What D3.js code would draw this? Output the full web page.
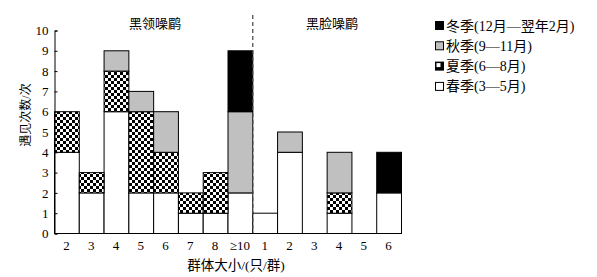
<!DOCTYPE html>
<meta charset="UTF-8">
<style>
body { margin: 0; background: #fff; }
text { font-family: "Liberation Serif", "Noto Sans CJK SC", serif; fill: #000; }
.bar { stroke: #000; stroke-width: 1px; }
</style>
<body>
<script src="https://d3js.org/d3.v7.min.js"></script>
<script>
// group size labels (black-throated laughingthrush first, then masked)
var sizes = ["2", "3", "4", "5", "6", "7", "8", "≥10", "1", "2", "3", "4", "5", "6"];
var spring = [4, 2, 6, 2, 2, 1, 1, 2, 1, 4, 0, 1, 0, 2];
var summer = [2, 1, 2, 4, 2, 1, 2, 0, 0, 0, 0, 1, 0, 0];
var autumn = [0, 0, 1, 1, 2, 0, 0, 4, 0, 1, 0, 2, 0, 0];
var winter = [0, 0, 0, 0, 0, 0, 0, 3, 0, 0, 0, 0, 0, 2];
var yTicks = [0, 1, 2, 3, 4, 5, 6, 7, 8, 9, 10];
var seasons = ["spring", "summer", "autumn", "winter"];
var legendLabels = ["冬季(12月—翌年2月)", "秋季(9—11月)", "夏季(6—8月)", "春季(3—5月)"];
var speciesNames = ["黑领噪鹛", "黑脸噪鹛"];

var rows = sizes.map(function(s, i) {
  return {i: i, spring: spring[i], summer: summer[i], autumn: autumn[i], winter: winter[i]};
});

var svg = d3.select("body").append("svg")
    .attr("width", 597)
    .attr("height", 277);

var defs = svg.append("defs");
var pat = defs.append("pattern")
    .attr("id", "checker")
    .attr("patternUnits", "userSpaceOnUse")
    .attr("width", 6).attr("height", 6);
pat.append("rect").attr("width", 6).attr("height", 6).attr("fill", "#fff");
pat.append("rect").attr("width", 3).attr("height", 3).attr("fill", "#000");
pat.append("rect").attr("x", 3).attr("y", 3).attr("width", 3).attr("height", 3).attr("fill", "#000");

var fills = {spring: "#fff", summer: "url(#checker)", autumn: "#c0c0c0", winter: "#000"};

var x = d3.scaleBand()
    .domain(d3.range(sizes.length))
    .range([54, 401])
    .padding(0);

var y = d3.scaleLinear()
    .domain([0, 10])
    .range([233, 30]);

var stack = d3.stack().keys(seasons);
var series = stack(rows);

// bars
svg.selectAll(".layer")
    .data(series)
  .enter().append("g")
    .attr("class", "layer")
    .attr("fill", function(d) { return fills[d.key]; })
  .selectAll("rect")
    .data(function(d) { return d.filter(function(p) { return p[1] > p[0]; }); })
  .enter().append("rect")
    .attr("class", "bar")
    .attr("x", function(d) { return x(d.data.i) + 0.5; })
    .attr("width", x.bandwidth())
    .attr("y", function(d) { return y(d[1]) + 0.5; })
    .attr("height", function(d) { return y(d[0]) - y(d[1]); });

// dashed separator between the two species
var sepX = x(7) + x.bandwidth() + 0.5;
svg.append("line")
    .attr("x1", sepX).attr("x2", sepX)
    .attr("y1", 15).attr("y2", y(0))
    .attr("stroke", "#444")
    .attr("stroke-width", 1.2)
    .attr("stroke-dasharray", "4,3");

// left axis
var yAxis = d3.axisLeft(y).tickValues(yTicks).tickSize(-3).tickPadding(6);
var ya = svg.append("g")
    .attr("transform", "translate(54.5,0.5)")
    .call(yAxis);
ya.attr("font-family", null);
ya.select(".domain").attr("stroke", "#000");
ya.selectAll("text").style("font-size", "13px");

// baseline
svg.append("line")
    .attr("x1", 54).attr("x2", 401.5)
    .attr("y1", y(0) + 0.5).attr("y2", y(0) + 0.5)
    .attr("stroke", "#000");

// x labels
svg.selectAll(".xlab")
    .data(sizes)
  .enter().append("text")
    .attr("class", "xlab")
    .attr("x", function(d, i) { return x(i) + x.bandwidth() / 2; })
    .attr("y", 250)
    .attr("text-anchor", "middle")
    .style("font-size", "13px")
    .text(function(d) { return d; });

// species titles
svg.append("text")
    .attr("x", 155).attr("y", 28)
    .attr("text-anchor", "middle")
    .style("font-size", "13px")
    .text(speciesNames[0]);
svg.append("text")
    .attr("x", 332).attr("y", 28)
    .attr("text-anchor", "middle")
    .style("font-size", "13px")
    .text(speciesNames[1]);

// axis titles
svg.append("text")
    .attr("transform", "translate(30,115) rotate(-90)")
    .attr("text-anchor", "middle")
    .style("font-size", "12px")
    .text("遇见次数/次");
svg.append("text")
    .attr("x", 236).attr("y", 270)
    .attr("text-anchor", "middle")
    .style("font-size", "13.5px")
    .text("群体大小/(只/群)");

// legend
var legendKeys = ["winter", "autumn", "summer", "spring"];
var leg = svg.selectAll(".leg")
    .data(legendKeys)
  .enter().append("g")
    .attr("class", "leg")
    .attr("transform", function(d, i) { return "translate(435," + (21 + i * 20.3) + ")"; });
leg.append("rect")
    .attr("x", 0.5).attr("y", 0.5)
    .attr("width", 8).attr("height", 8)
    .attr("fill", function(d) { return d === "summer" ? "#000" : fills[d]; })
    .attr("stroke", "#000");
leg.filter(function(d) { return d === "summer"; })
  .append("rect")
    .attr("x", 1.5).attr("y", 1.5).attr("width", 4).attr("height", 4)
    .attr("fill", "#fff");
leg.append("text")
    .attr("x", 11).attr("y", 9.5)
    .style("font-size", "14px")
    .text(function(d, i) { return legendLabels[i]; });
</script>
</body>
